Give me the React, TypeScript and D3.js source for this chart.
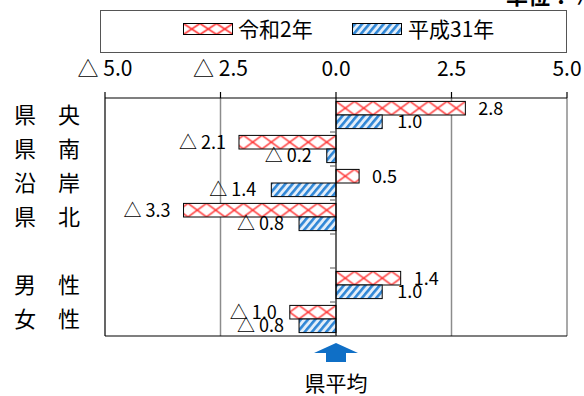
import React from "react";
import * as d3 from "d3";

const categories = ["県　央", "県　南", "沿　岸", "県　北", "", "男　性", "女　性"];
const reiwa2 = [2.8, -2.1, 0.5, -3.3, null, 1.4, -1.0];
const heisei31 = [1.0, -0.2, -1.4, -0.8, null, 1.0, -0.8];
const seriesNames = ["令和2年", "平成31年"];
const tickValues = [-5, -2.5, 0, 2.5, 5];

const W = 584, H = 396;
const M = { left: 105, right: 567, top: 98, bottom: 336 };
const JP_FONT = "'Noto Sans CJK JP', sans-serif";

const fmt = (v: number) => (v < 0 ? "△ " + Math.abs(v).toFixed(1) : v.toFixed(1));

export default function App() {
  const x = d3.scaleLinear().domain([-5, 5]).range([M.left, M.right]);
  const y = d3.scaleBand<string>().domain(categories.map((c, i) => i + "")).range([M.top, M.bottom]).padding(0);
  const bw = y.bandwidth();
  const barH = bw * 0.4;
  const redOff = bw * 0.1;
  const blueOff = bw * 0.5;
  const x0 = x(0);

  const bars: any[] = [];
  const labels: any[] = [];
  [reiwa2, heisei31].forEach((arr, si) => {
    arr.forEach((v, i) => {
      if (v === null) return;
      const yy = (y(i + "") as number) + (si === 0 ? redOff : blueOff);
      const xa = Math.min(x(v), x0), xb = Math.max(x(v), x0);
      bars.push(
        <rect key={`b${si}-${i}`} x={xa} y={yy} width={xb - xa} height={barH}
          fill={si === 0 ? "url(#redX)" : "url(#blueS)"} stroke="#000" strokeWidth={1} />
      );
      const off = si === 0 ? 13 : 15;
      labels.push(
        <text key={`l${si}-${i}`} x={v >= 0 ? x(v) + off : x(v) - off} y={yy + barH / 2 + 6.5}
          textAnchor={v >= 0 ? "start" : "end"} fontSize={18} fontFamily={JP_FONT} fill="#000">
          {fmt(v)}
        </text>
      );
    });
  });

  const boundaries = d3.range(categories.length + 1).map((i) => M.top + i * bw);

  return (
    <svg width={W} height={H} style={{ position: "absolute", left: 0, top: 0, background: "#fff" }}>
      <defs>
        <pattern id="redX" patternUnits="userSpaceOnUse" x={x0} y={M.top + redOff} width={18.5} height={bw}>
          <rect x={0} y={0} width={18.5} height={bw} fill="#fff" />
          <line x1={0} y1={0} x2={18.5} y2={barH} stroke="#ff2a2a" strokeWidth={1.7} strokeOpacity={0.85} />
          <line x1={0} y1={barH} x2={18.5} y2={0} stroke="#ff2a2a" strokeWidth={1.7} strokeOpacity={0.85} />
        </pattern>
        <pattern id="blueS" patternUnits="userSpaceOnUse" width={5.5} height={10} patternTransform="rotate(40)">
          <rect x={0} y={0} width={5.5} height={10} fill="#e3eef9" />
          <rect x={0} y={0} width={2.6} height={10} fill="#2f86d6" />
        </pattern>
        <pattern id="redXL" patternUnits="userSpaceOnUse" x={183.5} y={23.5} width={16.5} height={11}>
          <rect width={16.5} height={11} fill="#fff" />
          <line x1={0} y1={0} x2={16.5} y2={11} stroke="#ff2a2a" strokeWidth={1.5} />
          <line x1={0} y1={11} x2={16.5} y2={0} stroke="#ff2a2a" strokeWidth={1.5} />
        </pattern>
      </defs>

      {/* clipped header text at top right */}
      <text x={506} y={4} fontSize={22} fontWeight="bold" fontFamily={JP_FONT} fill="#000">単位：％</text>

      {/* legend */}
      <rect x={100.5} y={10.5} width={466} height={42} fill="#fff" stroke="#555" strokeWidth={1} />
      <rect x={183.5} y={23.5} width={49} height={11} fill="url(#redXL)" stroke="#000" strokeWidth={1} />
      <text x={238} y={37} fontSize={21} fontFamily={JP_FONT} fill="#000">{seriesNames[0]}</text>
      <rect x={352.5} y={23.5} width={49} height={11} fill="url(#blueS)" stroke="#000" strokeWidth={1} />
      <text x={408} y={37} fontSize={21} fontFamily={JP_FONT} fill="#000">{seriesNames[1]}</text>

      {/* tick labels */}
      {tickValues.map((t) => (
        <text key={"t" + t} x={x(t)} y={75.5} textAnchor="middle" fontSize={21} fontFamily={JP_FONT} fill="#000">
          {fmt(t)}
        </text>
      ))}

      {/* gridlines */}
      {[-2.5, 2.5, 5].map((t) => (
        <line key={"g" + t} x1={x(t)} x2={x(t)} y1={M.top} y2={M.bottom} stroke="#8c8c8c" strokeWidth={1.5} />
      ))}
      <line x1={M.left} x2={M.left} y1={M.top} y2={M.bottom} stroke="#000" strokeWidth={1.2} />
      <line x1={M.left} x2={M.right} y1={M.bottom} y2={M.bottom} stroke="#000" strokeWidth={1.2} />

      {/* top axis */}
      <line x1={M.left} x2={M.right} y1={M.top} y2={M.top} stroke="#000" strokeWidth={1.2} />
      {tickValues.map((t) => (
        <line key={"tk" + t} x1={x(t)} x2={x(t)} y1={M.top - 6} y2={M.top} stroke="#000" strokeWidth={1.2} />
      ))}

      {bars}

      {/* zero line and category ticks */}
      <line x1={x0} x2={x0} y1={M.top} y2={M.bottom} stroke="#000" strokeWidth={1.2} />
      {boundaries.slice(1).map((b, i) => (
        <line key={"ct" + i} x1={x0 - 6} x2={x0} y1={b} y2={b} stroke="#555" strokeWidth={1} />
      ))}

      {labels}

      {/* category labels */}
      {categories.map((c, i) => (
        <text key={"c" + i} x={14} y={(y(i + "") as number) + bw / 2 + 8} fontSize={22} fontFamily={JP_FONT} fill="#000">
          {c}
        </text>
      ))}

      {/* arrow */}
      <path d={`M${x0},343 L${x0 + 22},353 L${x0 + 10},353 L${x0 + 10},362 L${x0 - 10},362 L${x0 - 10},353 L${x0 - 22},353 Z`} fill="#0f6fc6" />
      <text x={x0} y={391} textAnchor="middle" fontSize={21} fontFamily={JP_FONT} fill="#000">県平均</text>
    </svg>
  );
}
